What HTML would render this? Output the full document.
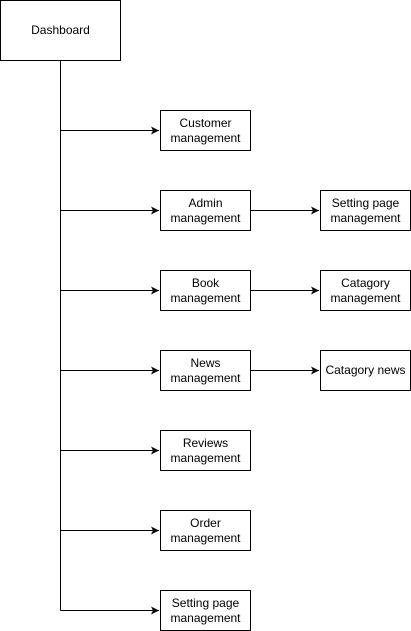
<!DOCTYPE html>
<html><head><meta charset="utf-8"><style>body{margin:0;background:#fff}svg{display:block}text{font-family:"Liberation Sans",Arial,sans-serif;font-size:12px;fill:#000}</style></head><body>
<svg width="411" height="631" viewBox="0 0 411 631" xmlns="http://www.w3.org/2000/svg">
<defs><marker id="a" markerWidth="10" markerHeight="10" refX="8" refY="5" orient="auto" markerUnits="userSpaceOnUse"><path d="M0,1 L8,5 L0,9 L2,5 Z" fill="#000"/></marker></defs>
<g fill="#fff" stroke="#000" stroke-width="1">
<rect x="0.5" y="0.5" width="120" height="60"/>
<rect x="160.5" y="110.5" width="90" height="40"/>
<rect x="160.5" y="190.5" width="90" height="40"/>
<rect x="160.5" y="270.5" width="90" height="40"/>
<rect x="160.5" y="350.5" width="90" height="40"/>
<rect x="160.5" y="430.5" width="90" height="40"/>
<rect x="160.5" y="510.5" width="90" height="40"/>
<rect x="160.5" y="590.5" width="90" height="40"/>
<rect x="320.5" y="190.5" width="90" height="40"/>
<rect x="320.5" y="270.5" width="90" height="40"/>
<rect x="320.5" y="350.5" width="90" height="40"/>
</g>
<g stroke="#000" stroke-width="1" fill="none">
<line x1="60.5" y1="60.5" x2="60.5" y2="610.5"/>
<line x1="60.5" y1="130.5" x2="159" y2="130.5" marker-end="url(#a)"/>
<line x1="60.5" y1="210.5" x2="159" y2="210.5" marker-end="url(#a)"/>
<line x1="60.5" y1="290.5" x2="159" y2="290.5" marker-end="url(#a)"/>
<line x1="60.5" y1="370.5" x2="159" y2="370.5" marker-end="url(#a)"/>
<line x1="60.5" y1="450.5" x2="159" y2="450.5" marker-end="url(#a)"/>
<line x1="60.5" y1="530.5" x2="159" y2="530.5" marker-end="url(#a)"/>
<line x1="60.5" y1="610.5" x2="159" y2="610.5" marker-end="url(#a)"/>
<line x1="250.5" y1="210.5" x2="319" y2="210.5" marker-end="url(#a)"/>
<line x1="250.5" y1="290.5" x2="319" y2="290.5" marker-end="url(#a)"/>
<line x1="250.5" y1="370.5" x2="319" y2="370.5" marker-end="url(#a)"/>
</g>
<g text-anchor="middle">
<text x="60.5" y="34">Dashboard</text>
<text x="205.5" y="127">Customer</text><text x="205.5" y="142">management</text>
<text x="205.5" y="207">Admin</text><text x="205.5" y="222">management</text>
<text x="205.5" y="287">Book</text><text x="205.5" y="302">management</text>
<text x="205.5" y="367">News</text><text x="205.5" y="382">management</text>
<text x="205.5" y="447">Reviews</text><text x="205.5" y="462">management</text>
<text x="205.5" y="527">Order</text><text x="205.5" y="542">management</text>
<text x="205.5" y="607">Setting page</text><text x="205.5" y="622">management</text>
<text x="365.5" y="207">Setting page</text><text x="365.5" y="222">management</text>
<text x="365.5" y="287">Catagory</text><text x="365.5" y="302">management</text>
<text x="365.5" y="374">Catagory news</text>
</g>
</svg>
</body></html>
